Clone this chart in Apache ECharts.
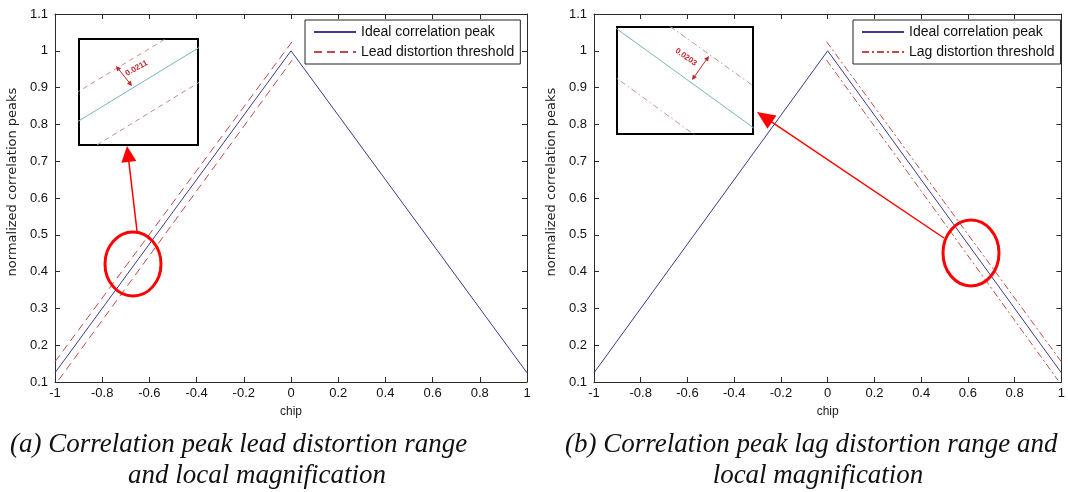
<!DOCTYPE html>
<html><head><meta charset="utf-8">
<script src="https://cdn.jsdelivr.net/npm/echarts@6/dist/echarts.min.js"></script>
<style>html,body{margin:0;padding:0;background:#fff}#c{width:1068px;height:492px}</style>
</head><body><div id="c"></div>
<script>
// ---- data ----
const xTickLabels = ['-1','-0.8','-0.6','-0.4','-0.2','0','0.2','0.4','0.6','0.8','1'];
const yTickLabels = ['0.1','0.2','0.3','0.4','0.5','0.6','0.7','0.8','0.9','1','1.1'];
const idealX = [-1, 0, 1];
const idealY = [0.125, 1, 0.125];
const leadUpperX = [-1, 0.005];
const leadUpperY = [0.155, 1.025];
const leadLowerX = [-0.985, 0.005];
const leadLowerY = [0.105, 0.975];
const lagUpperX = [-0.005, 1];
const lagUpperY = [1.025, 0.155];
const lagLowerX = [-0.005, 0.985];
const lagLowerY = [0.975, 0.105];
const seriesNames = ['Ideal correlation peak', 'Lead distortion threshold', 'Lag distortion threshold'];
const insetLeftRange = {x: [-0.68, -0.6045], y: [0.383, 0.4794]};
const insetRightRange = {x: [0.55, 0.6215], y: [0.452, 0.520]};
const gapLabels = ['0.0211', '0.0203'];
const axisNames = ['chip', 'normalized correlation peaks'];
const captions = ['(a) Correlation peak lead distortion range', 'and local magnification',
                  '(b) Correlation peak lag distortion range and', 'local magnification'];

const zip = (xs, ys) => xs.map((x, i) => [x, ys[i]]);
const fmtX = v => xTickLabels[Math.round((v + 1) / 0.2)] ?? '';
const fmtY = v => yTickLabels[Math.round((v - 0.1) / 0.1)] ?? '';

const AX = '#2b2b2b';
const FONT = 'Liberation Sans';
const BLUE = '#3b3b8f';
const RED = '#c24a4a';

function mainX(gi, pos) {
  return {
    type: 'value', gridIndex: gi, position: pos, min: -1, max: 1, interval: 0.2,
    axisLine: {show: true, onZero: false, lineStyle: {color: AX, width: 1}},
    axisTick: {show: true, inside: true, length: 5, lineStyle: {color: AX}},
    axisLabel: {show: pos === 'bottom', formatter: fmtX, color: '#111', fontSize: 13, fontFamily: FONT, margin: 5},
    splitLine: {show: false},
    name: pos === 'bottom' ? axisNames[0] : '', nameLocation: 'middle', nameGap: 24,
    nameTextStyle: {fontSize: 12, fontFamily: FONT, color: '#222'}
  };
}
function mainY(gi, pos) {
  return {
    type: 'value', gridIndex: gi, position: pos, min: 0.1, max: 1.1, interval: 0.1,
    axisLine: {show: true, onZero: false, lineStyle: {color: AX, width: 1}},
    axisTick: {show: true, inside: true, length: 5, lineStyle: {color: AX}},
    axisLabel: {show: pos === 'left', formatter: fmtY, color: '#111', fontSize: 13, fontFamily: FONT, margin: 7},
    splitLine: {show: false}
  };
}
function insetAxis(gi, r) {
  return {type: 'value', gridIndex: gi, min: r[0], max: r[1], show: false, splitLine: {show: false}};
}
function legendFor(names, left) {
  return {data: names, orient: 'vertical', left: left, top: 20,
    padding: [5, 6, 5, 8], itemGap: 6, itemWidth: 42, itemHeight: 14,
    borderColor: '#222', borderWidth: 1, backgroundColor: '#fff',
    itemStyle: {opacity: 0},
    textStyle: {fontSize: 14, fontFamily: FONT, color: '#111'}};
}

// annotation helpers
function arrowHead(x1, y1, x2, y2, len, half, color) {
  const a = Math.atan2(y2 - y1, x2 - x1);
  const bx = x2 - len * Math.cos(a), by = y2 - len * Math.sin(a);
  const px = -Math.sin(a) * half, py = Math.cos(a) * half;
  return {type: 'polygon', z: 100, shape: {points: [[x2, y2], [bx + px, by + py], [bx - px, by - py]]}, style: {fill: color}};
}
function arrow(x1, y1, x2, y2, len, half, w, color, both) {
  const a = Math.atan2(y2 - y1, x2 - x1);
  const out = [
    {type: 'line', z: 100, shape: {x1: both ? x1 + len * 0.8 * Math.cos(a) : x1, y1: both ? y1 + len * 0.8 * Math.sin(a) : y1,
      x2: x2 - len * 0.8 * Math.cos(a), y2: y2 - len * 0.8 * Math.sin(a)}, style: {stroke: color, lineWidth: w}},
    arrowHead(x1, y1, x2, y2, len, half, color)
  ];
  if (both) out.push(arrowHead(x2, y2, x1, y1, len, half, color));
  return out;
}
const capStyle = {fontFamily: 'Liberation Serif', fontStyle: 'italic', fontSize: 27, fill: '#111'};
const yNameStyle = {fontFamily: 'DejaVu Sans', fontSize: 13, fill: '#222', align: 'center', verticalAlign: 'middle'};

const chart = echarts.init(document.getElementById('c'), null, {renderer: 'canvas'});
chart.setOption({
  backgroundColor: '#fff',
  animation: false,
  grid: [
    {left: 55, top: 14, width: 472, height: 368},
    {left: 594, top: 14, width: 476, height: 368},
    {left: 79, top: 39, width: 119, height: 106, show: true, borderColor: '#000', borderWidth: 2, backgroundColor: '#fff', z: 5},
    {left: 617, top: 27, width: 136, height: 107, show: true, borderColor: '#000', borderWidth: 2, backgroundColor: '#fff', z: 5}
  ],
  xAxis: [mainX(0, 'bottom'), mainX(0, 'top'), mainX(1, 'bottom'), mainX(1, 'top'),
          insetAxis(2, insetLeftRange.x), insetAxis(3, insetRightRange.x)],
  yAxis: [mainY(0, 'left'), mainY(0, 'right'), mainY(1, 'left'), mainY(1, 'right'),
          insetAxis(2, insetLeftRange.y), insetAxis(3, insetRightRange.y)],
  legend: [legendFor([seriesNames[0], seriesNames[1]], 305), legendFor([seriesNames[0], seriesNames[2]], 853)],
  series: [
    {name: seriesNames[0], type: 'line', xAxisIndex: 0, yAxisIndex: 0, data: zip(idealX, idealY), symbol: 'none',
     lineStyle: {color: BLUE, width: 1}, itemStyle: {color: BLUE}},
    {name: seriesNames[1], type: 'line', xAxisIndex: 0, yAxisIndex: 0, data: zip(leadUpperX, leadUpperY), symbol: 'none',
     lineStyle: {color: RED, width: 1, type: [8, 5]}, itemStyle: {color: RED}},
    {name: seriesNames[1], type: 'line', xAxisIndex: 0, yAxisIndex: 0, data: zip(leadLowerX, leadLowerY), symbol: 'none',
     lineStyle: {color: RED, width: 1, type: [8, 5]}, itemStyle: {color: RED}},
    {name: seriesNames[0], type: 'line', xAxisIndex: 2, yAxisIndex: 2, data: zip(idealX, idealY), symbol: 'none',
     lineStyle: {color: BLUE, width: 1}, itemStyle: {color: BLUE}},
    {name: seriesNames[2], type: 'line', xAxisIndex: 2, yAxisIndex: 2, data: zip(lagUpperX, lagUpperY), symbol: 'none',
     lineStyle: {color: RED, width: 1, type: [7, 3, 2, 3]}, itemStyle: {color: RED}},
    {name: seriesNames[2], type: 'line', xAxisIndex: 2, yAxisIndex: 2, data: zip(lagLowerX, lagLowerY), symbol: 'none',
     lineStyle: {color: RED, width: 1, type: [7, 3, 2, 3]}, itemStyle: {color: RED}},
    // magnified insets
    {type: 'line', xAxisIndex: 4, yAxisIndex: 4, z: 6, data: zip(idealX, idealY), symbol: 'none', clip: true,
     lineStyle: {color: '#7ab3bd', width: 1}},
    {type: 'line', xAxisIndex: 4, yAxisIndex: 4, z: 6, data: zip(leadUpperX, leadUpperY), symbol: 'none', clip: true,
     lineStyle: {color: '#c98a8a', width: 1, type: [5, 4]}},
    {type: 'line', xAxisIndex: 4, yAxisIndex: 4, z: 6, data: zip(leadLowerX, leadLowerY), symbol: 'none', clip: true,
     lineStyle: {color: '#c98a8a', width: 1, type: [5, 4]}},
    {type: 'line', xAxisIndex: 5, yAxisIndex: 5, z: 6, data: zip(idealX, idealY), symbol: 'none', clip: true,
     lineStyle: {color: '#7ab3bd', width: 1}},
    {type: 'line', xAxisIndex: 5, yAxisIndex: 5, z: 6, data: zip(lagUpperX, lagUpperY), symbol: 'none', clip: true,
     lineStyle: {color: '#cf8f8f', width: 1, type: [6, 3, 1.5, 3]}},
    {type: 'line', xAxisIndex: 5, yAxisIndex: 5, z: 6, data: zip(lagLowerX, lagLowerY), symbol: 'none', clip: true,
     lineStyle: {color: '#cf8f8f', width: 1, type: [6, 3, 1.5, 3]}}
  ],
  graphic: [
    {type: 'text', x: 13, y: 182, rotation: Math.PI / 2, style: Object.assign({text: axisNames[1]}, yNameStyle)},
    {type: 'text', x: 552, y: 182, rotation: Math.PI / 2, style: Object.assign({text: axisNames[1]}, yNameStyle)},
    {type: 'ellipse', z: 100, shape: {cx: 133, cy: 264, rx: 28, ry: 32}, style: {fill: null, stroke: '#ff0000', lineWidth: 3}},
    {type: 'ellipse', z: 100, shape: {cx: 971, cy: 253, rx: 28, ry: 33}, style: {fill: null, stroke: '#ff0000', lineWidth: 3}},
    ...arrow(137, 231, 127, 146, 16, 7.5, 1.5, '#ff0000', false),
    ...arrow(944, 238, 757, 112, 18, 8, 1.5, '#ff0000', false),
    ...arrow(116, 66, 132, 86, 5, 2.5, 1, '#c0282c', true),
    ...arrow(692, 80, 709, 56, 5, 2.5, 1, '#c0282c', true),
    {type: 'text', z: 100, x: 126, y: 74, rotation: 0.5,
     style: {text: gapLabels[0], fontSize: 8, fontWeight: 'bold', fontFamily: FONT, fill: '#c0282c', align: 'left', verticalAlign: 'middle'}},
    {type: 'text', z: 100, x: 676, y: 50, rotation: -0.62,
     style: {text: gapLabels[1], fontSize: 8, fontWeight: 'bold', fontFamily: FONT, fill: '#c0282c', align: 'left', verticalAlign: 'middle'}},
    {type: 'text', x: 10, y: 445, style: Object.assign({text: captions[0], align: 'left', verticalAlign: 'middle'}, capStyle)},
    {type: 'text', x: 257, y: 476, style: Object.assign({text: captions[1], align: 'center', verticalAlign: 'middle'}, capStyle)},
    {type: 'text', x: 565, y: 445, style: Object.assign({text: captions[2], align: 'left', verticalAlign: 'middle'}, capStyle)},
    {type: 'text', x: 818, y: 476, style: Object.assign({text: captions[3], align: 'center', verticalAlign: 'middle'}, capStyle)}
  ]
});
</script></body></html>
